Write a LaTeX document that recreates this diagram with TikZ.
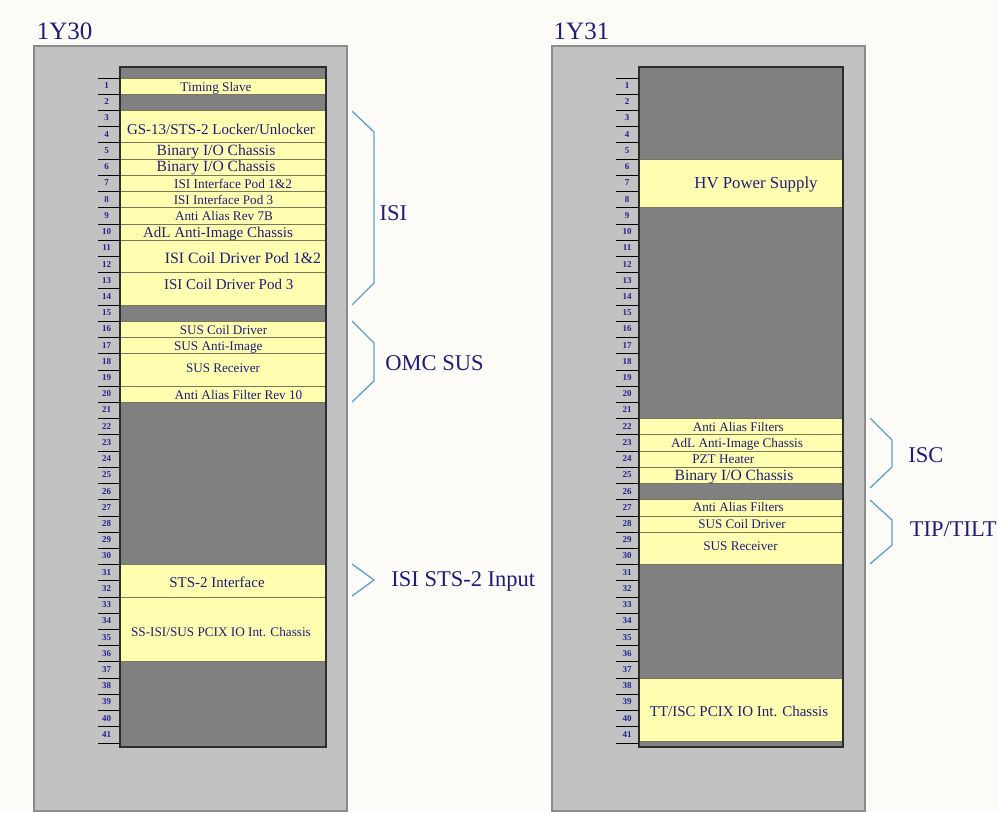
\documentclass[tikz,border=0pt]{standalone}
\usepackage{fontspec}
\setmainfont{Liberation Serif}
\definecolor{bg}{RGB}{252,251,248}
\definecolor{rackouter}{RGB}{194,194,194}
\definecolor{rackouterline}{RGB}{140,140,140}
\definecolor{rackinner}{RGB}{128,128,128}
\definecolor{rackinnerline}{RGB}{45,45,45}
\definecolor{devfill}{RGB}{255,253,176}
\definecolor{devline}{RGB}{120,120,90}
\definecolor{txt}{RGB}{30,30,120}
\definecolor{numtxt}{RGB}{35,35,140}
\definecolor{brk}{RGB}{95,160,205}
\tikzset{
  outerrack/.style={fill=rackouter, draw=rackouterline, line width=1.6pt},
  innerrack/.style={fill=rackinner, draw=rackinnerline, line width=1.2pt},
  devbox/.style={fill=devfill, draw=devline, line width=0.9pt},
  devtext/.style={text=txt, inner sep=0pt, anchor=base},
  numline/.style={draw=black, line width=0.9pt},
  numtext/.style={text=numtxt, inner sep=0pt, anchor=center, font=\fontsize{9}{10}\bfseries\selectfont},
  bracketline/.style={draw=brk, line width=1.3pt}
}
\newcommand{\rtop}[1]{78+(#1-1)*16.22}
\newcommand{\rbot}[1]{78+(#1)*16.22}
% name, cx, cy (visual centre), size, text
\newcommand{\dtext}[5]{\node[devtext, font=\fontsize{#4}{#4}\selectfont] (#1) at (#2,{#3+0.33*#4}) {#5};}
\begin{document}
\begin{tikzpicture}[x=1pt,y=-1pt]
\useasboundingbox (0,0) rectangle (998,812);
\fill[bg] (0,0) rectangle (998,812);
\clip (0,0) rectangle (998,812);

% ---------- rack 1Y30 ----------
\dtext{t30}{64.7}{31}{25}{1Y30}
\path[outerrack] (34,46) rectangle (347,811);
\path[innerrack] (120,67) rectangle (326,747);
\foreach \i in {1,...,41} {
  \draw[numline] (98,{\rtop{\i}}) -- (120,{\rtop{\i}});
  \node[numtext] (la\i) at (106.5,{\rtop{\i}+7.6}) {\i};
}
\draw[numline] (98,{\rbot{41}}) -- (120,{\rbot{41}});

\path[devbox] (120,{\rtop{1}}) rectangle (326,{\rbot{1}});
\path[devbox] (120,{\rtop{3}}) rectangle (326,{\rbot{4}});
\path[devbox] (120,{\rtop{5}}) rectangle (326,{\rbot{5}});
\path[devbox] (120,{\rtop{6}}) rectangle (326,{\rbot{6}});
\path[devbox] (120,{\rtop{7}}) rectangle (326,{\rbot{7}});
\path[devbox] (120,{\rtop{8}}) rectangle (326,{\rbot{8}});
\path[devbox] (120,{\rtop{9}}) rectangle (326,{\rbot{9}});
\path[devbox] (120,{\rtop{10}}) rectangle (326,{\rbot{10}});
\path[devbox] (120,{\rtop{11}}) rectangle (326,{\rbot{12}});
\path[devbox] (120,{\rtop{13}}) rectangle (326,{\rbot{14}});
\path[devbox] (120,{\rtop{16}}) rectangle (326,{\rbot{16}});
\path[devbox] (120,{\rtop{17}}) rectangle (326,{\rbot{17}});
\path[devbox] (120,{\rtop{18}}) rectangle (326,{\rbot{19}});
\path[devbox] (120,{\rtop{20}}) rectangle (326,{\rbot{20}});
\path[devbox] (120,{\rtop{31}}) rectangle (326,{\rbot{32}});
\path[devbox] (120,{\rtop{33}}) rectangle (326,{\rbot{36}});
\draw[rackinnerline, line width=1.2pt] (120,67) rectangle (326,747);

\dtext{a1}{216}{87.3}{13.2}{Timing Slave}
\dtext{a3}{221}{130}{15}{GS-13/STS-2 Locker/Unlocker}
\dtext{a5}{216}{150.7}{15.6}{Binary I/O Chassis}
\dtext{a6}{216}{166.7}{15.6}{Binary I/O Chassis}
\dtext{a7}{233}{184}{13.3}{ISI Interface Pod 1\&2}
\dtext{a8}{223.5}{200}{13.1}{ISI Interface Pod 3}
\dtext{a9}{224}{215.7}{13.2}{Anti Alias Rev 7B}
\dtext{a10}{218}{232.3}{15}{AdL Anti-Image Chassis}
\dtext{a11}{243}{258.3}{15.8}{ISI Coil Driver Pod 1\&2}
\dtext{a13}{228.7}{285}{15}{ISI Coil Driver Pod 3}
\dtext{a16}{223.5}{330}{13.1}{SUS Coil Driver}
\dtext{a17}{218.3}{346}{13.2}{SUS Anti-Image}
\dtext{a18}{223}{367.7}{13.1}{SUS Receiver}
\dtext{a20}{238.5}{395}{13.2}{Anti Alias Filter Rev 10}
\dtext{a31}{217}{582.7}{15}{STS-2 Interface}
\dtext{a33}{221}{631.7}{13.2}{SS-ISI/SUS PCIX IO Int. Chassis}

% brackets 1Y30
\draw[bracketline] (352,111) -- (374,132) -- (374,283) -- (352,305);
\draw[bracketline] (352,321) -- (374,343) -- (374,381) -- (352,402);
\draw[bracketline] (352,564) -- (374,580) -- (352,596);
\dtext{gisi}{393.3}{212.7}{22.5}{ISI}
\dtext{gomc}{434.5}{363.3}{22.5}{OMC SUS}
\dtext{gsts}{463.3}{579.3}{22.5}{ISI STS-2 Input}

% ---------- rack 1Y31 ----------
\dtext{t31}{581.5}{31}{25}{1Y31}
\path[outerrack] (552,46) rectangle (865,811);
\path[innerrack] (639,67) rectangle (843,747);
\foreach \i in {1,...,41} {
  \draw[numline] (616,{\rtop{\i}}) -- (639,{\rtop{\i}});
  \node[numtext] (lb\i) at (627,{\rtop{\i}+7.6}) {\i};
}
\draw[numline] (616,{\rbot{41}}) -- (639,{\rbot{41}});

\path[devbox] (639,{\rtop{6}}) rectangle (843,{\rbot{8}});
\path[devbox] (639,{\rtop{22}}) rectangle (843,{\rbot{22}});
\path[devbox] (639,{\rtop{23}}) rectangle (843,{\rbot{23}});
\path[devbox] (639,{\rtop{24}}) rectangle (843,{\rbot{24}});
\path[devbox] (639,{\rtop{25}}) rectangle (843,{\rbot{25}});
\path[devbox] (639,{\rtop{27}}) rectangle (843,{\rbot{27}});
\path[devbox] (639,{\rtop{28}}) rectangle (843,{\rbot{28}});
\path[devbox] (639,{\rtop{29}}) rectangle (843,{\rbot{30}});
\path[devbox] (639,{\rtop{38}}) rectangle (843,741);
\draw[rackinnerline, line width=1.2pt] (639,67) rectangle (843,747);

\dtext{b6}{756}{183.3}{16.8}{HV Power Supply}
\dtext{b22}{738.3}{427.3}{13.1}{Anti Alias Filters}
\dtext{b23}{737}{442.7}{13.2}{AdL Anti-Image Chassis}
\dtext{b24}{723.3}{459.3}{13.2}{PZT Heater}
\dtext{b25}{734}{475}{15.6}{Binary I/O Chassis}
\dtext{b27}{738.3}{507.3}{13.1}{Anti Alias Filters}
\dtext{b28}{742}{524}{13.1}{SUS Coil Driver}
\dtext{b29}{740.5}{546}{13.2}{SUS Receiver}
\dtext{b38}{739}{711.7}{15}{TT/ISC PCIX IO Int. Chassis}

% brackets 1Y31
\draw[bracketline] (870,418) -- (892,440) -- (892,467) -- (870,488);
\draw[bracketline] (870,500) -- (892,520) -- (892,545) -- (870,564);
\dtext{gisc}{925.8}{455}{22.5}{ISC}
\dtext{gtt}{953.3}{529.3}{22.5}{TIP/TILT}
\end{tikzpicture}
\end{document}
